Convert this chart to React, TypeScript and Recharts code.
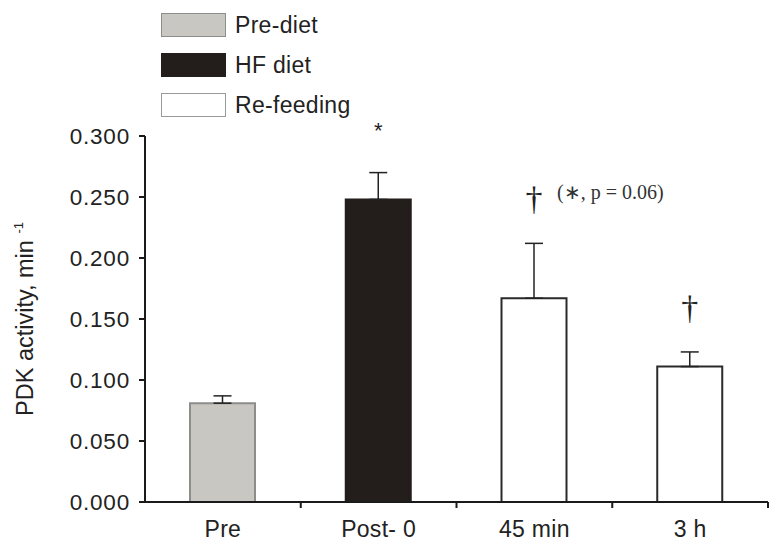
import { BarChart, Bar, XAxis, YAxis, Cell, ErrorBar, LabelList } from 'recharts';

const categories = ['Pre', 'Post- 0', '45 min', '3 h'];
const means = [0.081, 0.248, 0.167, 0.111];
const upperErrors = [0.006, 0.022, 0.045, 0.012];
const groups = ['Pre-diet', 'HF diet', 'Re-feeding', 'Re-feeding'];
const marks = ['', '*', '†', '†'];
const notes = ['', '', '(∗, p = 0.06)', ''];
const legendItems = ['Pre-diet', 'HF diet', 'Re-feeding'];
const yTicks = [0, 0.05, 0.1, 0.15, 0.2, 0.25, 0.3];

const sans = '"Liberation Sans", Arial, sans-serif';
const serif = '"Liberation Serif", "Times New Roman", serif';

const groupStyle: Record<string, { fill: string; stroke: string; legendStroke: string }> = {
  'Pre-diet': { fill: '#c9c7c2', stroke: '#8d8d8b', legendStroke: '#8d8d8b' },
  'HF diet': { fill: '#231e1b', stroke: '#231e1b', legendStroke: '#231e1b' },
  'Re-feeding': { fill: '#ffffff', stroke: '#2a2a2a', legendStroke: '#9a9a9a' },
};

const data = categories.map((c, i) => ({
  category: c,
  mean: means[i],
  err: [0, upperErrors[i]],
  mark: marks[i],
  note: notes[i],
}));

// y of the error bar cap, from the bar's own geometry
const capY = (p: any) => {
  const i = p.index;
  const perUnit = p.height / means[i];
  return p.y - upperErrors[i] * perUnit;
};

const MarkLabel = (p: any) => {
  if (!p.value) return null;
  const cx = p.x + p.width / 2;
  const top = capY(p);
  if (p.value === '*') {
    return (
      <text x={cx} y={top - 35} textAnchor="middle" fontFamily={sans} fontSize={22} fill="#222">
        *
      </text>
    );
  }
  return (
    <text x={cx} y={top - 33} textAnchor="middle" fontFamily={serif} fontSize={34} fill="#222">
      {p.value}
    </text>
  );
};

const NoteLabel = (p: any) => {
  if (!p.value) return null;
  const cx = p.x + p.width / 2;
  return (
    <text x={cx + 23} y={capY(p) - 44} fontFamily={serif} fontSize={20} fill="#333">
      {p.value}
    </text>
  );
};

const XTick = (p: any) => {
  const axisY = p.y - 8;
  const half = p.payload?.offset ?? 78;
  const tx = p.payload.coordinate ?? p.x;
  return (
    <g>
      <line x1={tx + half} x2={tx + half} y1={axisY} y2={axisY + 6} stroke="#1a1a1a" strokeWidth={2} />
      <text x={p.x} y={axisY + 35} textAnchor="middle" fontFamily={sans} fontSize={23} letterSpacing={0.3} fill="#222">
        {p.payload.value}
      </text>
    </g>
  );
};

const YLabel = (p: any) => {
  const vb = p.viewBox;
  const cy = vb.y + vb.height / 2;
  return (
    <text x={33} y={cy} transform={`rotate(-90 33 ${cy})`} textAnchor="middle" fontFamily={sans} fontSize={23.5} fill="#222">
      {'PDK activity, min\u00a0'}
      <tspan fontSize={13} dy={-10}>-1</tspan>
    </text>
  );
};

export default function App() {
  return (
    <div style={{ position: 'absolute', left: 0, top: 0, width: 770, height: 546, background: '#fff' }}>
      <BarChart width={770} height={546} data={data} margin={{ top: 136, right: 2, bottom: 4, left: 0 }} barSize={65}>
        <XAxis
          dataKey="category"
          height={40}
          axisLine={{ stroke: '#1a1a1a', strokeWidth: 2 }}
          tickLine={false}
          tickSize={6}
          tickMargin={2}
          tick={<XTick />}
          interval={0}
        />
        <YAxis
          width={145}
          domain={[0, 0.3]}
          ticks={yTicks}
          interval={0}
          tickFormatter={(v: number) => v.toFixed(3)}
          axisLine={{ stroke: '#1a1a1a', strokeWidth: 2 }}
          tickLine={{ stroke: '#1a1a1a', strokeWidth: 2 }}
          tickSize={6}
          tickMargin={9}
          tick={{ fontSize: 22.5, fontFamily: sans, fill: '#222', letterSpacing: 0.8 }}
          label={{ content: <YLabel /> }}
        />
        <Bar dataKey="mean" isAnimationActive={false} strokeWidth={2}>
          {data.map((d, i) => (
            <Cell key={d.category} fill={groupStyle[groups[i]].fill} stroke={groupStyle[groups[i]].stroke} />
          ))}
          <ErrorBar dataKey="err" width={9} strokeWidth={1.5} stroke="#222" direction="y" isAnimationActive={false} />
          <LabelList dataKey="mark" content={<MarkLabel />} />
          <LabelList dataKey="note" content={<NoteLabel />} />
        </Bar>
      </BarChart>
      <div style={{ position: 'absolute', left: 161, top: 13 }}>
        {legendItems.map((name) => (
          <div key={name} style={{ display: 'flex', alignItems: 'center', height: 24, marginBottom: 16 }}>
            <div
              style={{
                width: 63,
                height: 22,
                background: groupStyle[name].fill,
                border: `1.5px solid ${groupStyle[name].legendStroke}`,
              }}
            />
            <span style={{ marginLeft: 9, fontFamily: sans, fontSize: 23, letterSpacing: 0.3, color: '#222' }}>{name}</span>
          </div>
        ))}
      </div>
    </div>
  );
}
